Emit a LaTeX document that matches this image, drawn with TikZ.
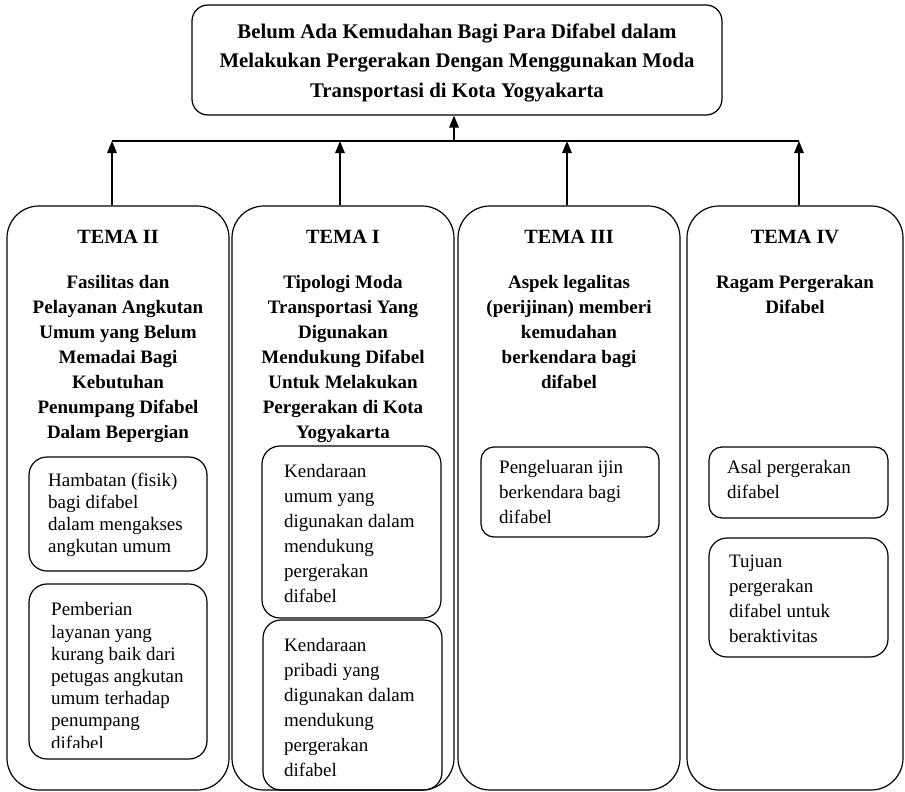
\documentclass[tikz,border=0pt]{standalone}
\usepackage{fontspec}
\setmainfont{Liberation Serif}
\usetikzlibrary{arrows.meta}
\begin{document}
\begin{tikzpicture}[x=1pt,y=-1pt,
  bigbox/.style={draw, line width=1.2pt, rounded corners=32pt, inner sep=0pt},
  topbox/.style={draw, line width=1.2pt, rounded corners=16pt, inner sep=0pt},
  subbox/.style={draw, line width=1.2pt, rounded corners=18pt, inner sep=0pt},
  smallbox/.style={draw, line width=1.2pt, rounded corners=13pt, inner sep=0pt},
  arr/.style={line width=1.4pt, -{Triangle[length=12pt,width=9.5pt]}},
  conn/.style={line width=1.4pt},
  titletxt/.style={inner sep=0pt, align=center, font=\bfseries\fontsize{20.8}{29.5}\selectfont},
  headtxt/.style={inner sep=0pt, anchor=north, font=\bfseries\fontsize{20.2}{25}\selectfont},
  subtxt/.style={inner sep=0pt, anchor=north, align=center, font=\bfseries\fontsize{19}{25}\selectfont},
  bodytxt/.style={inner sep=0pt, anchor=north west, align=left, font=\fontsize{19}{25}\selectfont},
  bodytight/.style={inner sep=0pt, anchor=north west, align=left, font=\fontsize{19}{22.2}\selectfont}
]
\useasboundingbox (0,0) rectangle (905,792);

% top box
\node[topbox, minimum width=530pt, minimum height=110pt] (top) at (457,60) {};
\node[titletxt, anchor=north] (toptxt) at (457,23.5) {Belum Ada Kemudahan Bagi Para Difabel dalam\\Melakukan Pergerakan Dengan Menggunakan Moda\\Transportasi di Kota Yogyakarta};

% theme boxes
\node[bigbox, minimum width=222pt, minimum height=584pt] (t2) at (118,498) {};
\node[bigbox, minimum width=222pt, minimum height=584pt] (t1) at (343,498) {};
\node[bigbox, minimum width=222pt, minimum height=584pt] (t3) at (569,498) {};
\node[bigbox, minimum width=216pt, minimum height=584pt] (t4) at (795,498) {};

% connectors
\coordinate (a2) at (112,141);
\coordinate (a1) at (340,141);
\coordinate (a3) at (567,141);
\coordinate (a4) at (799,141);
\coordinate (am) at (454,141);
\draw[conn] (a2) -- (a4);
\draw[arr] (a2 |- t2.north) -- (a2);
\draw[arr] (a1 |- t1.north) -- (a1);
\draw[arr] (a3 |- t3.north) -- (a3);
\draw[arr] (a4 |- t4.north) -- (a4);
\draw[arr] (am) -- (am |- top.south);

% headings
\node[headtxt] (h2) at (118,229.8) {TEMA II};
\node[headtxt] (h1) at (343,229.8) {TEMA I};
\node[headtxt] (h3) at (569,229.8) {TEMA III};
\node[headtxt] (h4) at (795,229.8) {TEMA IV};

\node[subtxt] (d2) at (118,275) {Fasilitas dan\\Pelayanan Angkutan\\Umum yang Belum\\Memadai Bagi\\Kebutuhan\\Penumpang Difabel\\Dalam Bepergian};
\node[subtxt] (d1) at (343,275) {Tipologi Moda\\Transportasi Yang\\Digunakan\\Mendukung Difabel\\Untuk Melakukan\\Pergerakan di Kota\\Yogyakarta};
\node[subtxt] (d3) at (569,275) {Aspek legalitas\\(perijinan) memberi\\kemudahan\\berkendara bagi\\difabel};
\node[subtxt] (d4) at (795,275) {Ragam Pergerakan\\Difabel};

% sub boxes
\node[subbox, minimum width=178pt, minimum height=114pt] (s2a) at (118,514) {};
\node[subbox, minimum width=178pt, minimum height=175pt] (s2b) at (118,671.5) {};
\node[subbox, minimum width=179pt, minimum height=172pt] (s1a) at (351.5,532) {};
\node[subbox, minimum width=179pt, minimum height=170pt] (s1b) at (352.5,705) {};
\node[smallbox, minimum width=178pt, minimum height=90pt] (s3) at (570,492) {};
\node[smallbox, minimum width=179pt, minimum height=71pt] (s4a) at (798.5,482.5) {};
\node[subbox, minimum width=179pt, minimum height=119pt] (s4b) at (798.5,597.5) {};

% sub box texts
\node[bodytight] (x2a) at (48,472.5) {Hambatan (fisik)\\bagi difabel\\dalam mengakses\\angkutan umum};
\begin{scope}
\clip (29,590) rectangle (207,747);
\node[bodytight] (x2b) at (51,602.5) {Pemberian\\layanan yang\\kurang baik dari\\petugas angkutan\\umum terhadap\\penumpang\\difabel};
\end{scope}
\node[bodytxt] (x1a) at (284,464.5) {Kendaraan\\umum yang\\digunakan dalam\\mendukung\\pergerakan\\difabel};
\node[bodytxt] (x1b) at (284,638.5) {Kendaraan\\pribadi yang\\digunakan dalam\\mendukung\\pergerakan\\difabel};
\node[bodytxt] (x3) at (499,460.5) {Pengeluaran ijin\\berkendara bagi\\difabel};
\node[bodytxt] (x4a) at (727,460.5) {Asal pergerakan\\difabel};
\node[bodytxt] (x4b) at (729,554.5) {Tujuan\\pergerakan\\difabel untuk\\beraktivitas};
\end{tikzpicture}
\end{document}
